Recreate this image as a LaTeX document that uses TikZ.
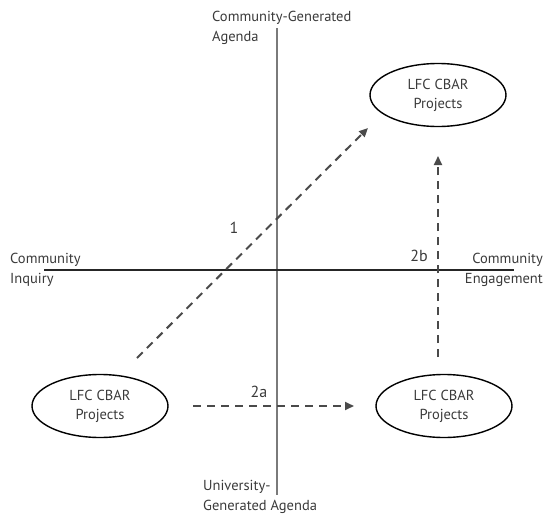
\documentclass[tikz,border=0pt]{standalone}
\usepackage{fontspec}
\setmainfont{PT Sans}
\usetikzlibrary{arrows.meta,shapes.geometric}
\definecolor{txt}{HTML}{3A3A3A}
\definecolor{axisgray}{HTML}{7A7A7A}
\definecolor{dashgray}{HTML}{4A4A4A}
\begin{document}
\begin{tikzpicture}[x=1pt,y=-1pt,
  lbl/.style={font=\fontsize{14.5}{20}\selectfont, text=txt, inner sep=0pt, align=left},
  proj/.style={draw=black, line width=1.4pt, ellipse, minimum width=136pt, minimum height=63pt, inner sep=0pt,
     font=\fontsize{14.5}{19}\selectfont, text=txt, align=center},
  flow/.style={draw=dashgray, line width=2pt, dash pattern=on 8pt off 6pt, -{Triangle[length=9pt,width=8pt]}},
  num/.style={font=\fontsize{16}{20}\selectfont, text=txt, inner sep=0pt}]
\useasboundingbox (0,0) rectangle (544,514);
% axes
\coordinate (vtop) at (277,28);
\coordinate (vbot) at (277,495);
\coordinate (hl) at (44,270);
\coordinate (hr) at (514,270);
\draw[axisgray, line width=1.9pt] (vtop) -- (vbot);
\draw[black!85, line width=1.2pt] (hl) -- (hr);
% axis labels
\node[lbl, anchor=west] (cga) at (212,28) {Community-Generated\\Agenda};
\node[lbl, anchor=west] (ci) at (10,270) {Community\\Inquiry};
\node[lbl, anchor=east, align=right] (ce) at (543,270) {Community\\Engagement};
\node[lbl, anchor=west] (uga) at (203,497) {University-\\Generated Agenda};
% project ellipses
\node[proj] (p1) at (438,95) {LFC CBAR\\Projects};
\node[proj] (p2) at (100,406) {LFC CBAR\\Projects};
\node[proj] (p3) at (444,406) {LFC CBAR\\Projects};
% arrows
\coordinate (a1s) at (137,358);
\coordinate (a1e) at (368,128);
\coordinate (a2s) at (193,406);
\coordinate (a2e) at (354,406);
\coordinate (a3s) at (438,357);
\coordinate (a3e) at (438,156);
\draw[flow] (a1s) -- (a1e);
\draw[flow] (a2s) -- (a2e);
\draw[flow] (a3s) -- (a3e);
% numbers
\node[num] (n1) at (234,228) {1};
\node[num] (n2a) at (259,392) {2a};
\node[num] (n2b) at (419,256) {2b};
\end{tikzpicture}
\end{document}
